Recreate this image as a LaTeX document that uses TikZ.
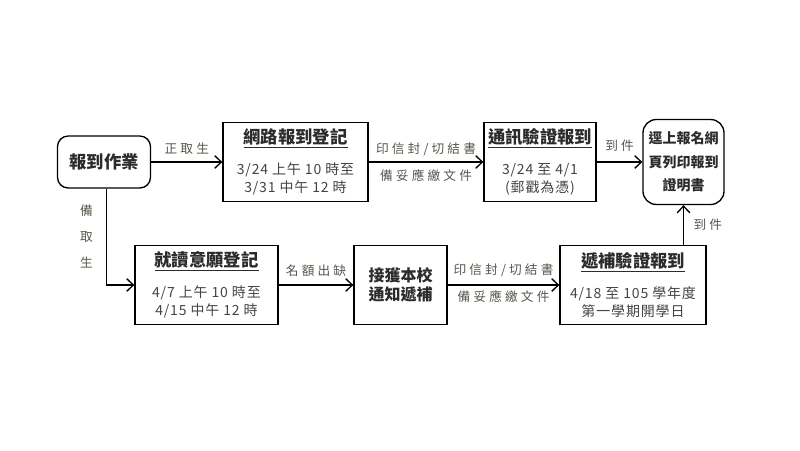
\documentclass[tikz,border=0pt]{standalone}
\usepackage{fontspec}
\setmainfont{Noto Sans CJK TC}
\usetikzlibrary{arrows.meta}

\definecolor{boxtext}{HTML}{2B2B2B}
\definecolor{bodytext}{HTML}{444444}
\definecolor{lbltext}{HTML}{5A554C}

\newcommand{\titlef}{\normalfont\fontsize{13}{15}\selectfont\bfseries}
\newcommand{\bodyf}{\fontsize{10.5}{13.5}\selectfont\addfontfeature{LetterSpace=6}}
\newcommand{\lblf}{\fontsize{9.5}{12}\selectfont\addfontfeature{LetterSpace=25}}

\begin{document}
\begin{tikzpicture}[x=0.75pt,y=-0.75pt,
    rbox/.style={draw,line width=1pt,rounded corners=8pt,align=center,inner sep=0pt,text=boxtext},
    sbox/.style={draw,line width=1pt,align=center,inner sep=0pt,text=bodytext,minimum height=59.25pt,font=\bodyf},
    lbl/.style={text=lbltext,font=\lblf,inner sep=2pt},
    arr/.style={line width=1pt,-{Straight Barb[length=5pt,width=9.5pt]}}]
    \useasboundingbox (0,0) rectangle (800,450);

    % Top row: regular admission
    \node[rbox,minimum width=69.75pt,minimum height=39pt,font=\titlef] (start) at (104,162) {報到作業};
    \node[sbox,minimum width=108.75pt] (reg) at (295.5,162)
        {{\titlef\color{boxtext}\underline{網路報到登記}}\\[10pt] 3/24 上午 10 時至\\ 3/31 中午 12 時};
    \node[sbox,minimum width=84pt] (verify) at (540,162)
        {{\titlef\color{boxtext}\underline{通訊驗證報到}}\\[10pt] 3/24 至 4/1\\ (郵戳為憑)};
    \node[rbox,rounded corners=10pt,minimum width=60.75pt,minimum height=63.75pt,
        font=\fontsize{10.5}{17.5}\selectfont\bfseries] (cert) at (683.5,162) {逕上報名網\\頁列印報到\\證明書};

    % Bottom row: waiting list
    \node[sbox,minimum width=107.25pt] (intent) at (206.5,285)
        {{\titlef\color{boxtext}\underline{就讀意願登記}}\\[10pt] 4/7 上午 10 時至\\ 4/15 中午 12 時};
    \node[sbox,minimum width=69.75pt,text=boxtext,font=\fontsize{12}{14.5}\selectfont\bfseries] (notify) at (400.5,285)
        {接獲本校\\通知遞補};
    \node[sbox,minimum width=109.5pt] (fill) at (633,285)
        {{\titlef\color{boxtext}\underline{遞補驗證報到}}\\[10pt] 4/18 至 105 學年度\\ 第一學期開學日};

    % Connectors
    \draw[arr] (start) -- node[lbl,above=3pt] (lzheng) {正取生} (reg);
    \draw[arr] (reg) -- node[lbl,above=2pt] (lmail1) {印信封/切結書}
        node[lbl,below=3pt] (ldoc1) {備妥應繳文件} (verify);
    \draw[arr] (verify) -- node[lbl,above=5pt] (ldao1) {到件} (cert);
    \draw[arr] ([xshift=2pt]start.south) |- node[lbl,pos=0.25,left=8pt,align=center,
        font=\fontsize{9.5}{19.5}\selectfont] (lbei) {備\\取\\生} (intent.west);
    \draw[arr] (intent) -- node[lbl,above=4pt] (lque) {名額出缺} (notify);
    \draw[arr] (notify) -- node[lbl,above=4pt] (lmail2) {印信封/切結書}
        node[lbl,below=2pt] (ldoc2) {備妥應繳文件} (fill);
    \draw[arr] (fill.north -| cert.south) -- node[lbl,right=5pt] (ldao2) {到件} (cert.south);
\end{tikzpicture}
\end{document}
